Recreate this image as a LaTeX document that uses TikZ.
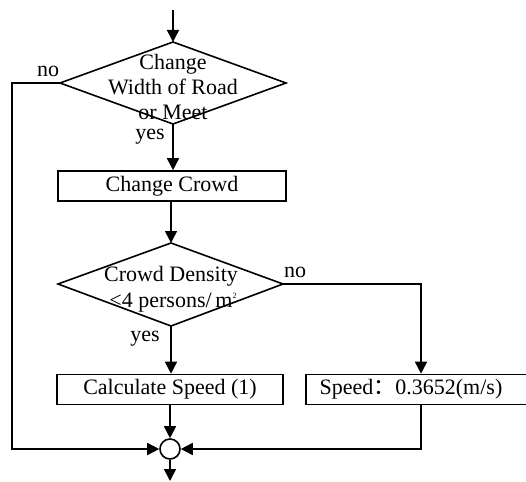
\documentclass[tikz,border=0pt]{standalone}
\usepackage{fontspec}
\setmainfont{Liberation Serif}
\newfontfamily\cjk{Noto Sans CJK SC}
\usetikzlibrary{arrows.meta}
\begin{document}
\begin{tikzpicture}[x=1pt,y=-1pt,
  line width=1.6pt,
  every node/.style={font=\fontsize{22}{26}\selectfont},
  arr/.style={-{Triangle[length=12pt,width=12pt]}},
  procbox/.style={draw,rectangle,inner sep=0pt,minimum height=30pt},
  lbl/.style={inner sep=0pt},
  junct/.style={draw,circle,minimum size=20pt,inner sep=0pt}]
\useasboundingbox (0,0) rectangle (526,481);
% decision 1
\coordinate (d1t) at (173,42);
\coordinate (d1r) at (286,83);
\coordinate (d1b) at (173,124);
\coordinate (d1l) at (60,83);
\coordinate (start) at (173,10);
\draw (d1t) -- (d1r) -- (d1b) -- (d1l) -- cycle;
\node[lbl,align=center,font=\fontsize{22}{25}\selectfont] (d1txt) at (173,87) {Change\\Width of Road\\or Meet};
% process 1
\node[procbox,minimum width=228pt] (b1) at (172,186) {Change Crowd};
% decision 2
\coordinate (d2t) at (171,243);
\coordinate (d2r) at (283,284);
\coordinate (d2b) at (171,326);
\coordinate (d2l) at (58,284);
\draw (d2t) -- (d2r) -- (d2b) -- (d2l) -- cycle;
\node[lbl,align=center] (d2txt) at (171,289) {Crowd Density\\<4 persons/\,m\rlap{\raisebox{9pt}{\fontsize{8}{8}\selectfont 2}}};
% process boxes
\node[procbox,minimum width=226pt] (b2) at (170,389.5) {Calculate Speed (1)};
\node[procbox,minimum width=224pt] (b3) at (418,389.5) {Speed{\cjk ：}0.3652(m/s)\hspace*{14pt}};
% junction
\node[junct] (j) at (170,449) {};
\coordinate (end) at (170,481);
\coordinate (lc) at (12,449);
\coordinate (rc) at (421,449);
\coordinate (rt) at (421,284);
% connectors
\draw[arr] (start) -- (d1t);
\draw[arr] (d1b) -- (b1.north -| d1b);
\draw[arr] (b1.south -| d2t) -- (d2t);
\draw[arr] (d2b) -- (b2.north -| d2b);
\draw[arr] (d2r) -- (rt) -- (b3.north -| rt);
\draw[arr] (d1l) -| (lc) -- (j.west);
\draw[arr] (b3.south -| rc) -- (rc) -- (j.east);
\draw[arr] (b2.south -| j) -- (j.north);
\draw[arr] (j.south) -- (end);
% labels
\node[lbl] (no1) at (48,71) {no};
\node[lbl] (yes1) at (150,137) {yes};
\node[lbl] (no2) at (295,272) {no};
\node[lbl] (yes2) at (145,339) {yes};
\end{tikzpicture}
\end{document}
